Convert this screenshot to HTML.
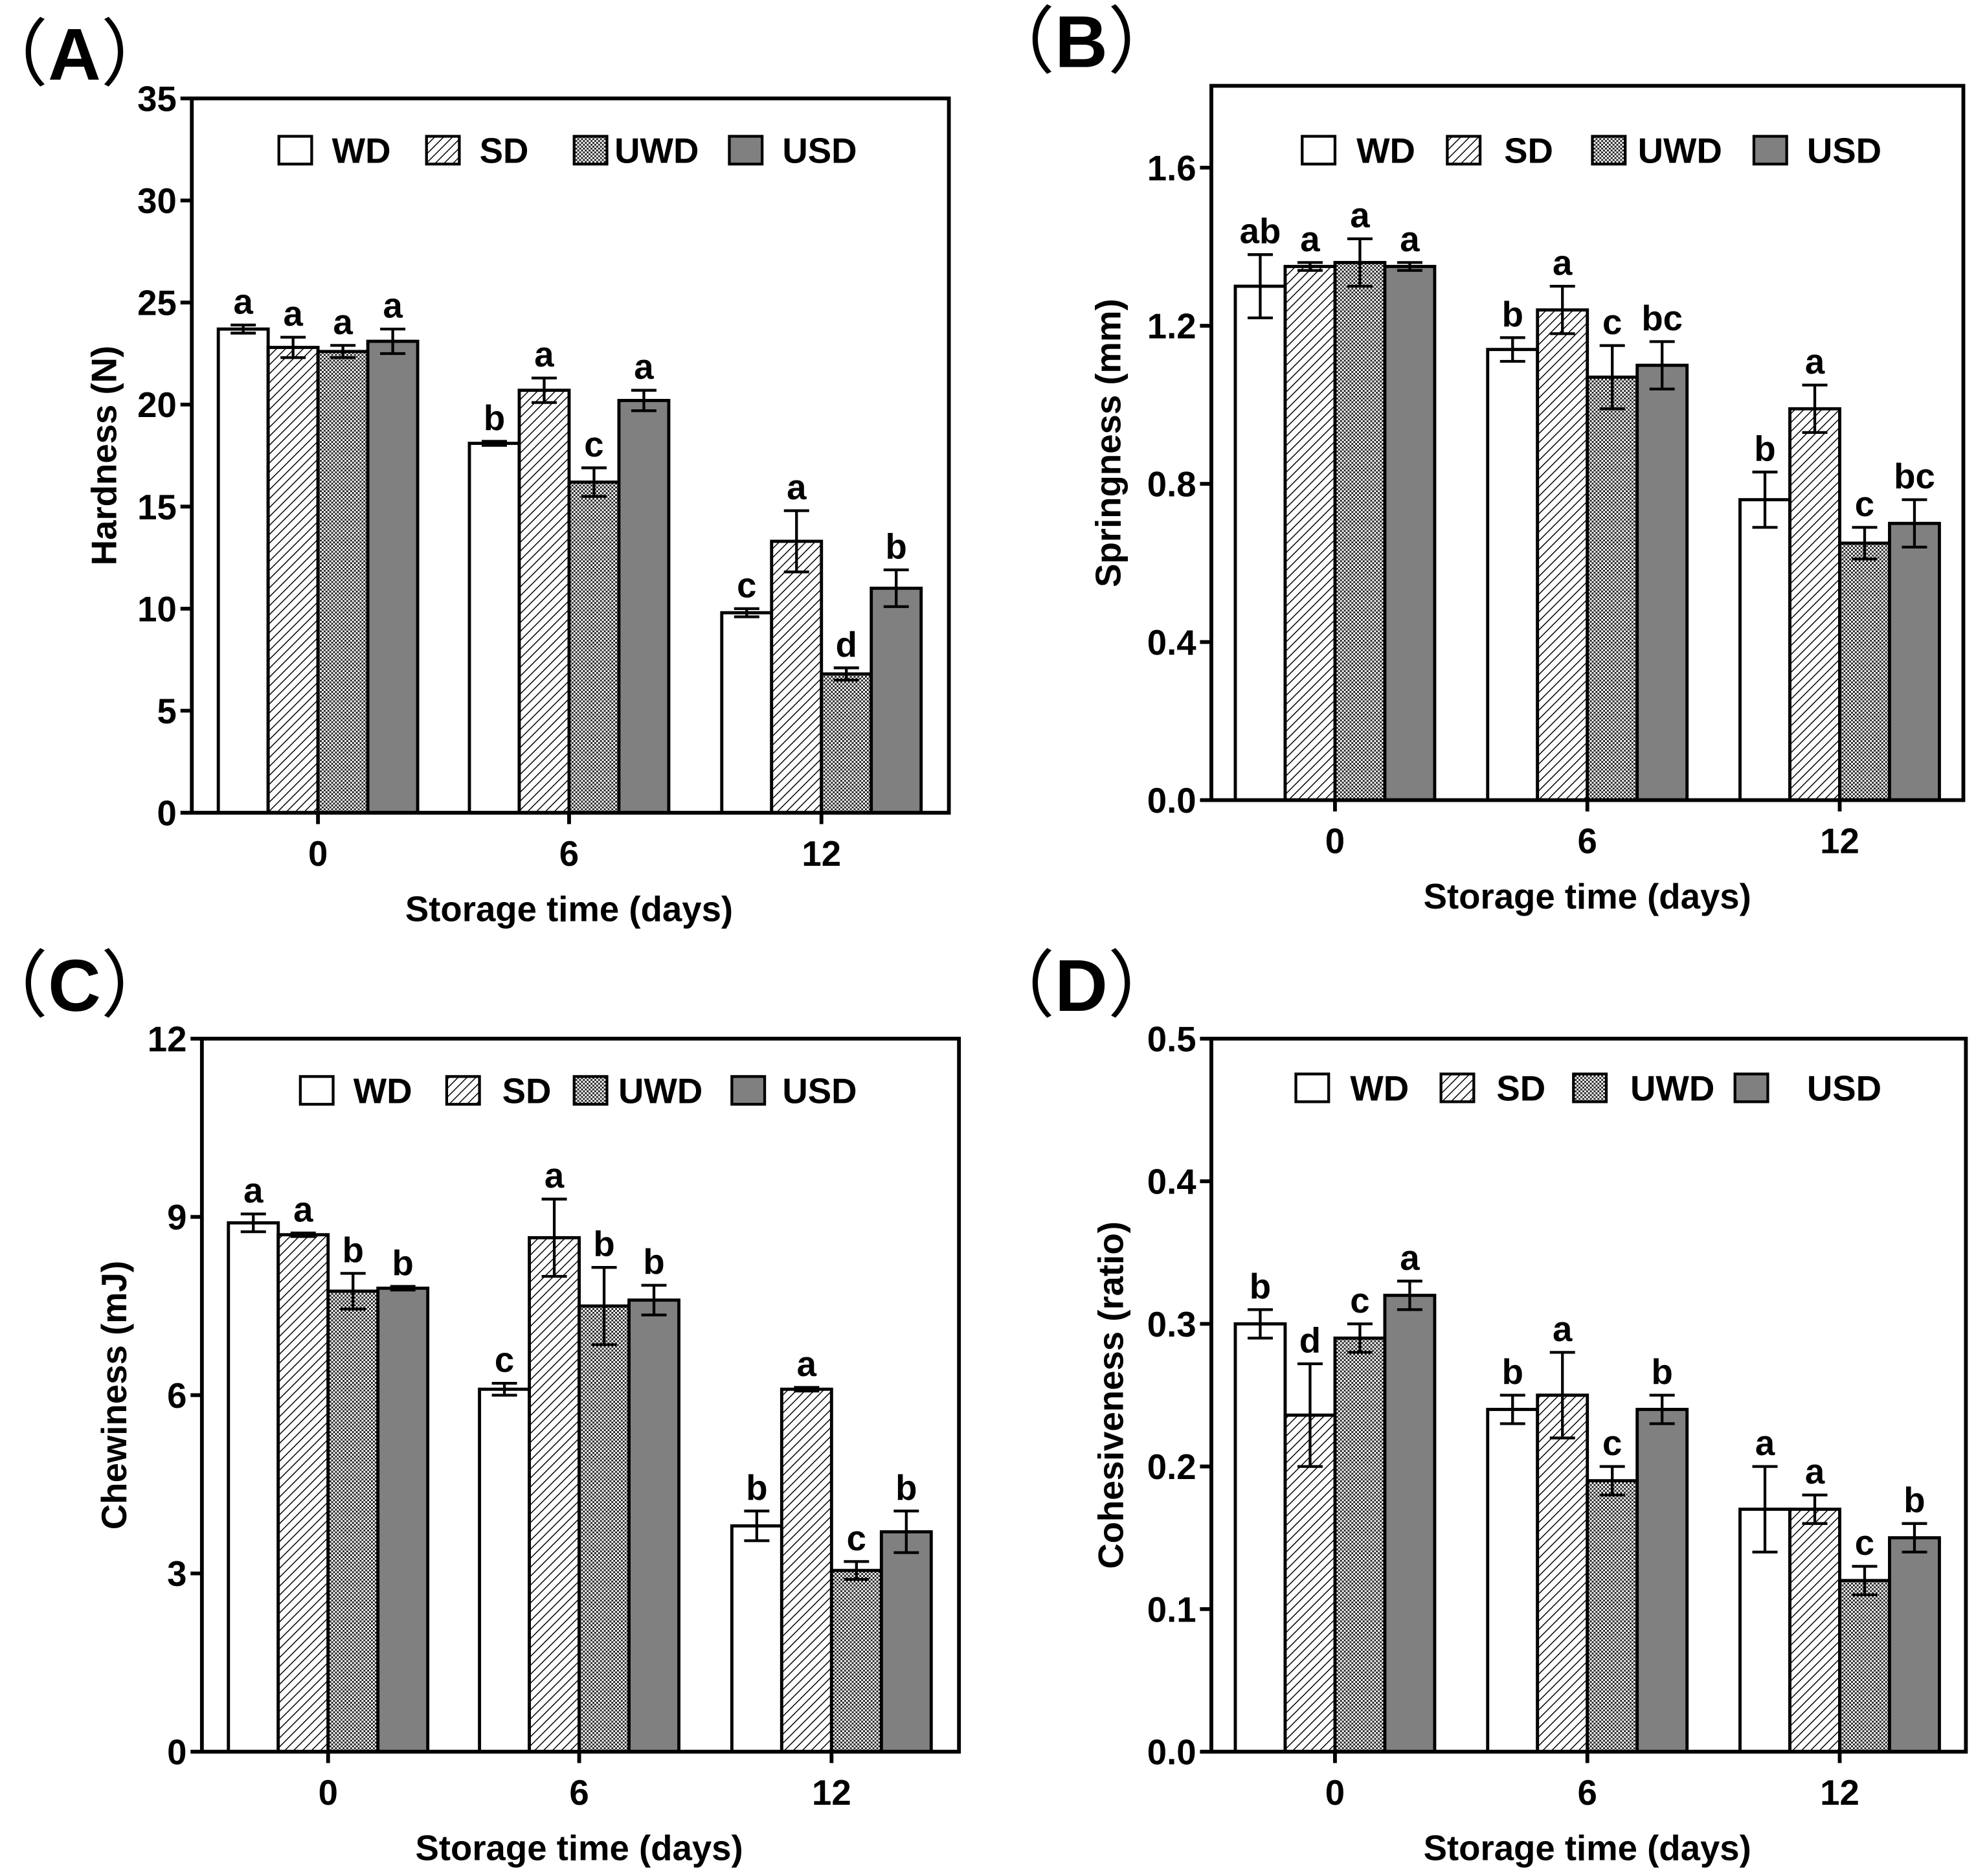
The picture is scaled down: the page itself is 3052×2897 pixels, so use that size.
<!DOCTYPE html>
<html><head><meta charset="utf-8">
<style>
html,body{margin:0;padding:0;background:#fff;}
svg{display:block;}
text{font-family:"Liberation Sans","Noto Sans CJK SC",sans-serif;font-weight:bold;fill:#000;}
</style></head>
<body>
<svg id="fig" xmlns="http://www.w3.org/2000/svg" width="3052" height="2897" viewBox="0 0 1566 1486.5">
<defs>
<pattern id="hatch" patternUnits="userSpaceOnUse" width="5" height="5" patternTransform="rotate(45)">
<rect width="5" height="5" fill="#fff"/><line x1="0" y1="0" x2="0" y2="5" stroke="#000" stroke-width="1.5"/>
</pattern>
<pattern id="check" patternUnits="userSpaceOnUse" width="3" height="3">
<rect width="3" height="3" fill="#fff"/><rect width="1.5" height="1.5" fill="#222"/><rect x="1.5" y="1.5" width="1.5" height="1.5" fill="#222"/>
</pattern>
</defs>
</svg>
<script>
// Panel A: Hardness
const catsA = ["0","6","12"];
const wdA = [23.7,18.1,9.8], sdA = [22.8,20.7,13.3], uwdA = [22.6,16.2,6.8], usdA = [23.1,20.2,11.0];
const wdErrA = [0.2,0.1,0.2], sdErrA = [0.5,0.6,1.5], uwdErrA = [0.3,0.7,0.3], usdErrA = [0.6,0.5,0.9];
const lettersA = [["a","a","a","a"],["b","a","c","a"],["c","a","d","b"]];
const ticksA = ["0","5","10","15","20","25","30","35"];
// Panel B: Springness
const catsB = ["0","6","12"];
const wdB = [1.30,1.14,0.76], sdB = [1.35,1.24,0.99], uwdB = [1.36,1.07,0.65], usdB = [1.35,1.10,0.70];
const wdErrB = [0.08,0.03,0.07], sdErrB = [0.01,0.06,0.06], uwdErrB = [0.06,0.08,0.04], usdErrB = [0.01,0.06,0.06];
const lettersB = [["ab","a","a","a"],["b","a","c","bc"],["b","a","c","bc"]];
const ticksB = ["0.0","0.4","0.8","1.2","1.6"];
// Panel C: Chewiness
const catsC = ["0","6","12"];
const wdC = [8.9,6.1,3.8], sdC = [8.7,8.65,6.1], uwdC = [7.75,7.5,3.05], usdC = [7.8,7.6,3.7];
const wdErrC = [0.15,0.1,0.25], sdErrC = [0.03,0.65,0.03], uwdErrC = [0.3,0.65,0.15], usdErrC = [0.03,0.25,0.35];
const lettersC = [["a","a","b","b"],["c","a","b","b"],["b","a","c","b"]];
const ticksC = ["0","3","6","9","12"];
// Panel D: Cohesiveness
const catsD = ["0","6","12"];
const wdD = [0.30,0.24,0.17], sdD = [0.236,0.25,0.17], uwdD = [0.29,0.19,0.12], usdD = [0.32,0.24,0.15];
const wdErrD = [0.01,0.01,0.03], sdErrD = [0.036,0.03,0.01], uwdErrD = [0.01,0.01,0.01], usdErrD = [0.01,0.01,0.01];
const lettersD = [["b","d","c","a"],["b","a","c","b"],["a","a","c","b"]];
const ticksD = ["0.0","0.1","0.2","0.3","0.4","0.5"];

const seriesNames = ["WD","SD","UWD","USD"];
const fills = ["#fff","url(#hatch)","url(#check)","#808080"];
const NS = "http://www.w3.org/2000/svg";
const svg = document.getElementById("fig");

function mk(tag, attrs, parent, txt){
  const e = document.createElementNS(NS, tag);
  for (const k in attrs) e.setAttribute(k, attrs[k]);
  if (txt !== undefined) e.textContent = txt;
  (parent || svg).appendChild(e);
  return e;
}

function panel(cfg){
  const g = mk("g", {});
  
  
  const {L,R,T,B,ymax} = cfg;
  const y = v => B - v/ymax*(B-T);
  const lbl = mk("text", {x:cfg.lx, y:cfg.ly, "font-size":58}, g);
  
  
  mk("tspan", {"font-weight":"normal", "font-family":"Noto Sans CJK SC, sans-serif"}, lbl, "（");
  mk("tspan", {}, lbl, cfg.label);
  mk("tspan", {"font-weight":"normal", "font-family":"Noto Sans CJK SC, sans-serif"}, lbl, "）");
  const series = cfg.series, errs = cfg.errs;
  cfg.cats.forEach((c, gi) => {
    const cx = cfg.centers[gi];
    for (let s = 0; s < 4; s++){
      const x0 = cx - 2*cfg.bw + s*cfg.bw;
      const v = series[s][gi], e = errs[s][gi];
      const r = mk("rect", {x:x0, y:y(v), width:cfg.bw, height:B-y(v), fill:fills[s], stroke:"#000", "stroke-width":2.5}, g);
      
      
      const mx = x0 + cfg.bw/2;
      const eb = mk("path", {d:`M${mx},${y(v+e)}V${y(v-e)}M${mx-10},${y(v+e)}H${mx+10}M${mx-10},${y(v-e)}H${mx+10}`, stroke:"#000", "stroke-width":2.2, fill:"none"}, g);
      
      
      const t = mk("text", {x:mx, y:y(v+e)-9, "font-size":28, "text-anchor":"middle"}, g, cfg.letters[gi][s]);
      
      
    }
    const xt = mk("text", {x:cx, y:B+42, "font-size":28, "text-anchor":"middle"}, g, c);
    
    
    mk("line", {x1:cx, x2:cx, y1:B, y2:B+9, stroke:"#000", "stroke-width":3}, g);
  });
  const fr = mk("rect", {x:L, y:T, width:R-L, height:B-T, fill:"none", stroke:"#000", "stroke-width":3}, g);
  
  
  cfg.ticks.forEach(tk => {
    const yy = y(parseFloat(tk));
    mk("line", {x1:L-9, x2:L, y1:yy, y2:yy, stroke:"#000", "stroke-width":3}, g);
    const t = mk("text", {x:L-12, y:yy+10, "font-size":28, "text-anchor":"end"}, g, tk);
    
    
  });
  const xt = mk("text", {x:cfg.centers[1], y:B+86, "font-size":28, "text-anchor":"middle"}, g, "Storage time (days)");
  
  
  const yt = mk("text", {x:0, y:0, "font-size":28, "text-anchor":"middle", transform:`translate(${cfg.ytx},${(T+B)/2}) rotate(-90)`}, g, cfg.ytitle);
  
  
  for (let s = 0; s < 4; s++){
    const bx = cfg.legBox[s];
    const lr = mk("rect", {x:bx, y:cfg.legY-11, width:26, height:22, fill:fills[s], stroke:"#000", "stroke-width":2.2}, g);
    
    
    const lt = mk("text", {x:cfg.legTxt[s], y:cfg.legY+10, "font-size":28}, g, seriesNames[s]);
    
    
  }
}

panel({id:"hardness", label:"A", lx:-20, ly:63, L:152, R:752, T:78, B:644, ymax:35, bw:39.5,
  centers:[252,451,651], cats:catsA, series:[wdA,sdA,uwdA,usdA], errs:[wdErrA,sdErrA,uwdErrA,usdErrA],
  letters:lettersA, ticks:ticksA, ytitle:"Hardness (N)", ytx:92,
  legY:119, legBox:[221,338,455,578], legTxt:[263,380,487,620]});
panel({id:"springness", label:"B", lx:778, ly:53, L:960, R:1556, T:68, B:634, ymax:1.807, bw:39.5,
  centers:[1058,1258,1458], cats:catsB, series:[wdB,sdB,uwdB,usdB], errs:[wdErrB,sdErrB,uwdErrB,usdErrB],
  letters:lettersB, ticks:ticksB, ytitle:"Springness (mm)", ytx:888,
  legY:119, legBox:[1032,1147,1262,1390], legTxt:[1075,1192,1298,1432]});
panel({id:"chewiness", label:"C", lx:-20, ly:801, L:160, R:760, T:823, B:1388, ymax:12, bw:39.5,
  centers:[260,459,659], cats:catsC, series:[wdC,sdC,uwdC,usdC], errs:[wdErrC,sdErrC,uwdErrC,usdErrC],
  letters:lettersC, ticks:ticksC, ytitle:"Chewiness (mJ)", ytx:100,
  legY:864, legBox:[238,354,455,580], legTxt:[280,398,490,620]});
panel({id:"cohesiveness", label:"D", lx:778, ly:801, L:960, R:1558, T:823, B:1388, ymax:0.5, bw:39.5,
  centers:[1058,1258,1458], cats:catsD, series:[wdD,sdD,uwdD,usdD], errs:[wdErrD,sdErrD,uwdErrD,usdErrD],
  letters:lettersD, ticks:ticksD, ytitle:"Cohesiveness (ratio)", ytx:890,
  legY:862, legBox:[1027,1142,1247,1375], legTxt:[1070,1186,1292,1432]});
</script>
</body></html>
